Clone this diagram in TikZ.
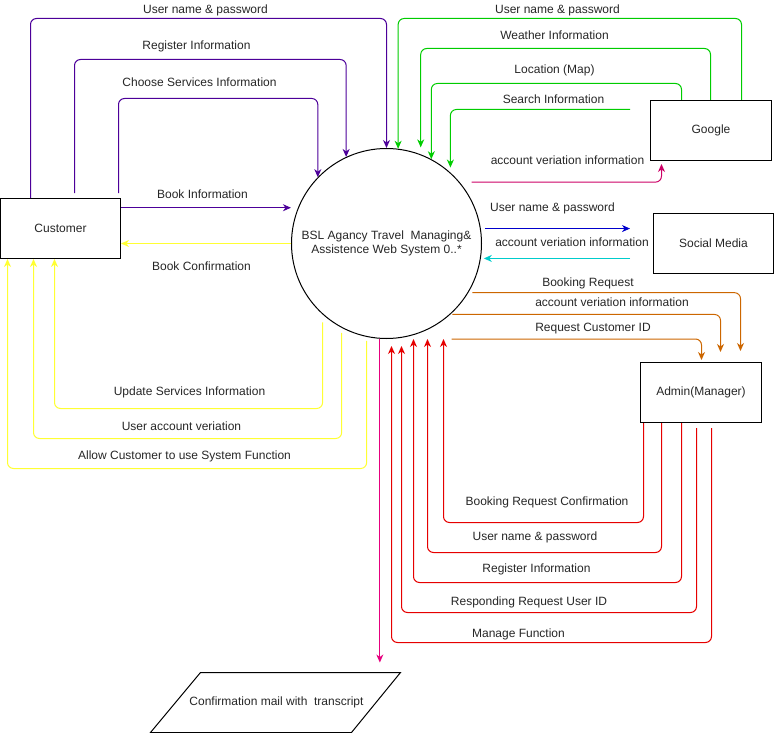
\documentclass[tikz,border=0pt]{standalone}
\usepackage{fontspec}
\setmainfont{Liberation Sans}
\usetikzlibrary{arrows.meta}
\definecolor{cpur}{RGB}{76,0,153}
\definecolor{cgrn}{RGB}{0,204,0}
\definecolor{cyel}{RGB}{255,255,51}
\definecolor{cmag}{RGB}{204,0,102}
\definecolor{cblu}{RGB}{0,0,204}
\definecolor{ccya}{RGB}{0,204,204}
\definecolor{cora}{RGB}{204,102,0}
\definecolor{cred}{RGB}{230,0,0}
\definecolor{cpink}{RGB}{230,0,126}
\begin{document}
\begin{tikzpicture}[x=1pt,y=-1pt]
\tikzset{
  box/.style={draw=black, line width=1pt, rectangle, minimum width=120pt, minimum height=60pt, inner sep=0pt, font=\fontsize{12}{14}\selectfont, text=black!85},
  lbl/.style={font=\fontsize{12}{14}\selectfont, inner sep=0pt, text=black!85},
  conn/.style={line width=1pt, rounded corners=6pt, -{Stealth[length=8pt,width=7pt,inset=2.5pt]}},
}
\useasboundingbox (0,0) rectangle (774,733);
\begin{scope}[shift={(0.5,0.5)}]
% nodes
\node[box] (cust) at (60,228) {Customer};
\node[box, minimum width=121pt] (goog) at (710.5,130) {Google};
\node[box] (soc) at (713,243) {Social Media};
\node[box, minimum width=121pt] (adm) at (700.5,392) {Admin(Manager)};
\node[draw=black, line width=1pt, circle, minimum size=190pt, inner sep=0pt, align=center,
      font=\fontsize{12}{13.5}\selectfont, text=black!85] (sys) at (386,243)
      {BSL Agancy Travel\ \ Managing\&\\Assistence Web System 0..*};
\node[lbl] (mail) at (276,702) {Confirmation mail with\ \ transcript};
\draw[line width=1pt] (150,732) -- (200,672) -- (400,672) -- (351,732) -- cycle;
\coordinate (mailin) at (380,662);

% purple: customer -> system
\draw[conn, cpur] (cust.north -| 30,0) |- (386,18) -- (sys.north);
\draw[conn, cpur, shorten <=5pt] (cust.north -| 74,0) |- (sys.115 |- 0,59) -- (sys.115);
\draw[conn, cpur, shorten <=5pt] (cust.north -| 118,0) |- (sys.136 |- 0,98) -- (sys.136);
\draw[conn, cpur, shorten >=7pt] (cust.east |- sys.158) -- (sys.158);

% yellow: system -> customer
\draw[conn, cyel] (sys.west) -- (cust.east |- sys.west);
\draw[conn, cyel] ([yshift=-8pt]sys.-132) |- (54,408) -- (cust.south -| 54,0);
\draw[conn, cyel] ([yshift=-5pt]sys.-118) |- (33,438) -- (cust.south -| 33,0);
\draw[conn, cyel] ([yshift=-4pt]sys.-102) |- (7,468) -- (cust.south -| 7,0);

% green: google -> system
\draw[conn, cgrn] (goog.north -| 741,0) |- (sys.83 |- 0,18) -- (sys.83);
\draw[conn, cgrn, shorten >=7pt] (goog.north -| 710,0) |- (sys.69 |- 0,48) -- (sys.69);
\draw[conn, cgrn] (goog.north -| 681,0) |- (sys.62 |- 0,83) -- (sys.62);
\draw[conn, cgrn, shorten <=20pt, shorten >=5pt] (goog.west |- 0,109) -| (sys.48);

% magenta: system -> google
\draw[conn, cmag, shorten >=3pt] ([xshift=12pt]sys.40) -| (goog.south -| 661,0);

% social media
\draw[conn, cblu, shorten >=23pt] ([xshift=4pt]sys.9) -- (soc.west |- sys.9);
\draw[conn, ccya, shorten <=23pt] (soc.west |- sys.-9) -- ([xshift=3pt]sys.-9);

% orange: system -> admin
\draw[conn, cora, shorten >=11pt] ([xshift=4pt]sys.-31) -| (adm.north -| 740,0);
\draw[conn, cora, shorten >=10pt] ([xshift=2pt]sys.-48) -| (adm.north -| 720,0);
\draw[conn, cora, shorten >=2pt] (sys.south -| 451,0) -| (adm.north -| 701,0);

% red: admin -> system
\draw[conn, cred] (adm.south -| 643,0) |- (443,522) -- (sys.south -| 443,0);
\draw[conn, cred] (adm.south -| 661,0) |- (427,552) -- (sys.south -| 427,0);
\draw[conn, cred] (adm.south -| 681,0) |- (413,582) -- (sys.south -| 413,0);
\draw[conn, cred, shorten <=5pt, shorten >=7pt] (adm.south -| 696,0) |- (401,612) -- (sys.south -| 401,0);
\draw[conn, cred, shorten <=5pt, shorten >=7pt] (adm.south -| 711,0) |- (391,642) -- (sys.south -| 391,0);

% pink: system -> mail
\draw[conn, cpink] (sys.-94) -- (sys.-94 |- mailin);

% labels
\node[lbl] (l1) at (205,10) {User name \& password};
\node[lbl] (l2) at (196,46) {Register Information};
\node[lbl] (l3) at (199,82) {Choose Services Information};
\node[lbl] (l4) at (202,194) {Book Information};
\node[lbl] (l5) at (201,266) {Book Confirmation};
\node[lbl] (l6) at (189,392) {Update Services Information};
\node[lbl] (l7) at (181,426) {User account veriation};
\node[lbl] (l8) at (184,456) {Allow Customer to use System Function};
\node[lbl] (g1) at (557,10) {User name \& password};
\node[lbl] (g2) at (554,35) {Weather Information};
\node[lbl] (g3) at (554,70) {Location (Map)};
\node[lbl] (g4) at (553,99) {Search Information};
\node[lbl] (g5) at (567,160) {account veriation information};
\node[lbl] (s1) at (552,208) {User name \& password};
\node[lbl] (s2) at (571.5,242) {account veriation information};
\node[lbl] (o1) at (587.5,283) {Booking Request};
\node[lbl] (o2) at (611.5,302) {account veriation information};
\node[lbl] (o3) at (592.5,328) {Request Customer ID};
\node[lbl] (r1) at (546.5,502) {Booking Request Confirmation};
\node[lbl] (r2) at (534.5,537) {User name \& password};
\node[lbl] (r3) at (536,569) {Register Information};
\node[lbl] (r4) at (528.5,602) {Responding Request User ID};
\node[lbl] (r5) at (518,634) {Manage Function};
\end{scope}
\end{tikzpicture}
\end{document}
